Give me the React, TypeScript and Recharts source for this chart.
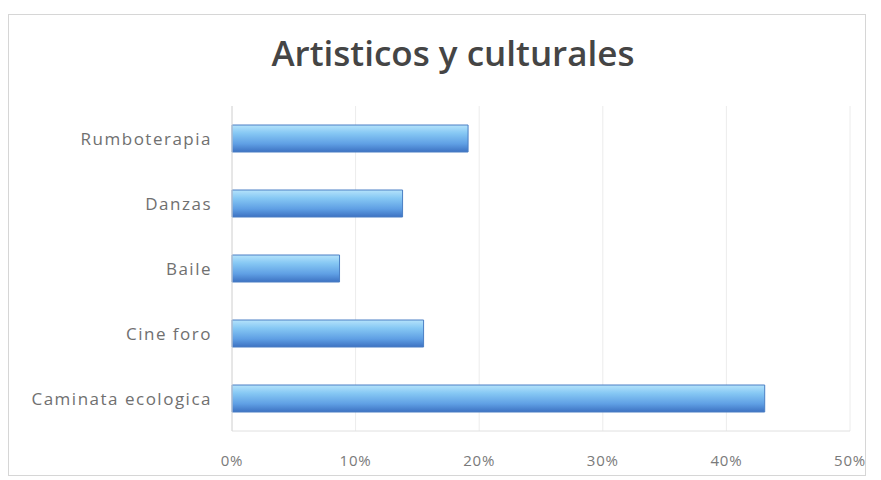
import * as React from 'react'
import { BarChart, Bar, XAxis, YAxis, CartesianGrid } from 'recharts'

const categories = ['Rumboterapia', 'Danzas', 'Baile', 'Cine foro', 'Caminata ecologica']
const values = [0.191, 0.138, 0.087, 0.155, 0.431]
const xTicks = [0, 0.1, 0.2, 0.3, 0.4, 0.5]

const data = categories.map((name, i) => ({ name, value: values[i] }))

const labelFont = "'Open Sans', 'Liberation Sans', sans-serif"

export default function App() {
  return (
    <div style={{ position: 'absolute', left: 0, top: 0, width: 881, height: 480, background: '#fff' }}>
      <div
        style={{
          position: 'absolute',
          left: 8,
          top: 14,
          width: 858,
          height: 462,
          border: '1px solid #d6d6d6',
          boxSizing: 'border-box',
        }}
      />
      <div
        style={{
          position: 'absolute',
          left: 0,
          width: 906,
          top: 33,
          lineHeight: '40px',
          textAlign: 'center',
          fontFamily: labelFont,
          fontWeight: 600,
          fontSize: 35,
          color: '#454545',
        }}
      >
        Artisticos y culturales
      </div>
      <BarChart
        width={881}
        height={480}
        data={data}
        layout="vertical"
        margin={{ top: 106, right: 31, left: 0, bottom: 19 }}
        barSize={27}
      >
        <defs>
          <linearGradient id="barFill" x1="0" y1="0" x2="0" y2="1">
            <stop offset="0%" stopColor="#b5e3fb" />
            <stop offset="30%" stopColor="#86c8f4" />
            <stop offset="70%" stopColor="#5f9fe4" />
            <stop offset="100%" stopColor="#3d72c2" />
          </linearGradient>
        </defs>
        <CartesianGrid horizontal={false} stroke="#ececec" />
        <XAxis
          type="number"
          domain={[0, 0.5]}
          ticks={xTicks}
          tickFormatter={(v: number) => `${Math.round(v * 100)}%`}
          axisLine={{ stroke: '#e0e0e0' }}
          tickLine={false}
          tickSize={0}
          tickMargin={24}
          height={30}
          tick={{ fontSize: 15, fill: '#7a7a7a', fontFamily: labelFont, letterSpacing: 0.8 }}
        />
        <YAxis
          type="category"
          dataKey="name"
          width={232}
          axisLine={{ stroke: '#d8d8d8' }}
          tickLine={false}
          tickSize={0}
          tickMargin={20}
          tick={{ fontSize: 17, fill: '#707070', fontFamily: labelFont, letterSpacing: 1.5 }}
        />
        <Bar dataKey="value" fill="url(#barFill)" stroke="#4a7fc4" strokeWidth={1} isAnimationActive={false} />
      </BarChart>
    </div>
  )
}
